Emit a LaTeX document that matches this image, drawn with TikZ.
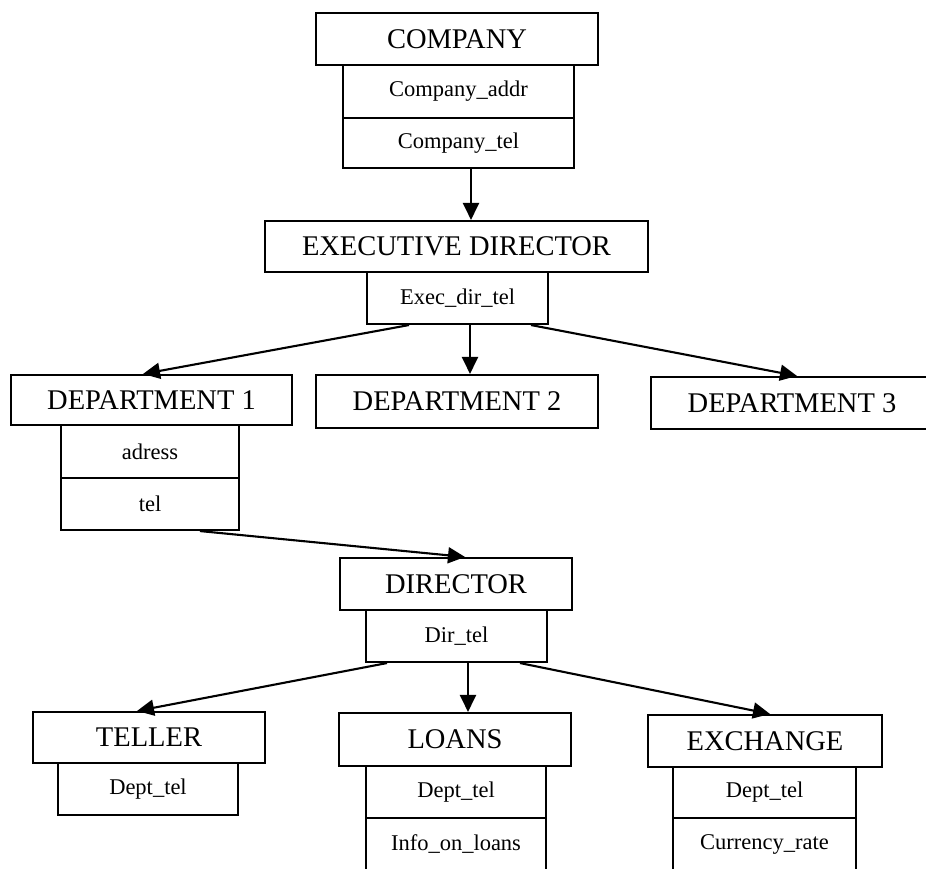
\documentclass[tikz,border=0pt]{standalone}
\usepackage{fontspec}
\setmainfont{Liberation Serif}
\usetikzlibrary{arrows.meta}
\begin{document}
\begin{tikzpicture}[x=1pt,y=-1pt,
  box/.style={draw, line width=2.1pt, inner sep=0pt, anchor=center},
  head/.style={box, minimum height=52pt, font=\fontsize{28.5}{30}\selectfont},
  attr/.style={box, minimum height=52pt, font=\fontsize{22.5}{24}\selectfont},
  arr/.style={line width=2.1pt, -{Triangle[length=17pt,width=16pt]}}]
\fill[white] (0,0) rectangle (926,868);
\useasboundingbox (0,0) rectangle (926,868);

\node[head, minimum width=282pt] (company) at (457,39) {COMPANY};
\node[attr, minimum width=231pt, minimum height=53pt] (caddr) at (458.5,91.5) {Company\_addr};
\node[attr, minimum width=231pt, minimum height=50pt] (ctel) at (458.5,143) {Company\_tel};

\node[head, minimum width=383pt, minimum height=51pt] (exec) at (456.5,246.5) {EXECUTIVE DIRECTOR};
\node[attr, minimum width=181pt] (exectel) at (457.5,298) {Exec\_dir\_tel};

\node[head, minimum width=281pt, minimum height=50pt] (dep1) at (151.5,400) {DEPARTMENT 1};
\node[head, minimum width=282pt, minimum height=53pt] (dep2) at (457,401.5) {DEPARTMENT 2};
\node[head, minimum width=282pt] (dep3) at (792,403) {DEPARTMENT 3};

\node[attr, minimum width=178pt, minimum height=53pt] (adress) at (150,451.5) {adress};
\node[attr, minimum width=178pt] (tel) at (150,504) {tel};

\node[head, minimum width=232pt] (director) at (456,584) {DIRECTOR};
\node[attr, minimum width=181pt] (dirtel) at (456.5,636) {Dir\_tel};

\node[head, minimum width=232pt, minimum height=51pt] (teller) at (149,737.5) {TELLER};
\node[attr, minimum width=180pt] (ttel) at (148,789) {Dept\_tel};

\node[head, minimum width=232pt, minimum height=53pt] (loans) at (455,739.5) {LOANS};
\node[attr, minimum width=180pt] (ltel) at (456,792) {Dept\_tel};
\node[attr, minimum width=180pt] (linfo) at (456,844) {Info\_on\_loans};

\node[head, minimum width=234pt] (exch) at (765,741) {EXCHANGE};
\node[attr, minimum width=183pt, minimum height=51pt] (etel) at (764.5,792.5) {Dept\_tel};
\node[attr, minimum width=183pt] (erate) at (764.5,844) {Currency\_rate};

\draw[arr] ([xshift=12.5pt]ctel.south) -- ([xshift=12.5pt]ctel.south |- exec.north);
\draw[arr] ([xshift=-48.5pt]exectel.south) -- ([xshift=-8.5pt]dep1.north);
\draw[arr] ([xshift=12.5pt]exectel.south) -- ([xshift=12.5pt]exectel.south |- dep2.north);
\draw[arr] ([xshift=73.5pt]exectel.south) -- ([xshift=5pt]dep3.north);
\draw[arr] ([xshift=50pt]tel.south) -- ([xshift=9pt]director.north);
\draw[arr] ([xshift=-69.5pt]dirtel.south) -- ([xshift=-12pt]teller.north);
\draw[arr] ([xshift=11.5pt]dirtel.south) -- ([xshift=11.5pt]dirtel.south |- loans.north);
\draw[arr] ([xshift=63.5pt]dirtel.south) -- ([xshift=5pt]exch.north);
\end{tikzpicture}
\end{document}
